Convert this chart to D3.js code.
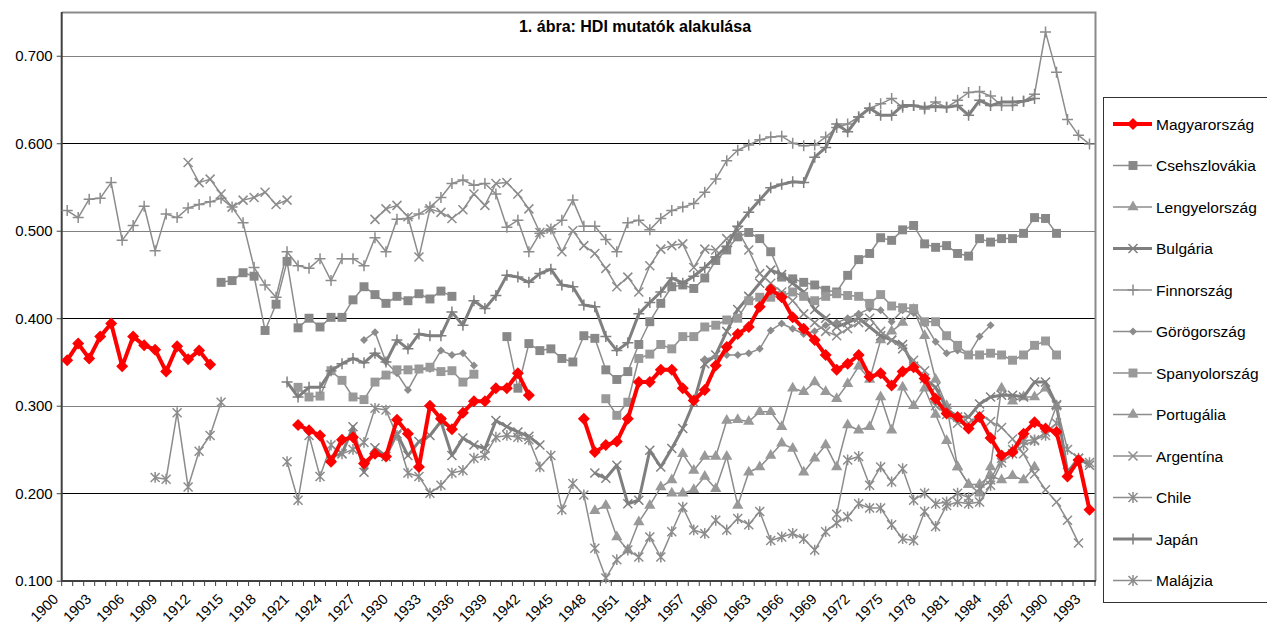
<!DOCTYPE html>
<html>
<head>
<meta charset="utf-8">
<script src="https://cdn.jsdelivr.net/npm/d3@7"></script>
<style>
body { margin:0; background:#fff; }
#main-container { width:1267px; height:629px; overflow:hidden; }
text { font-family: Arial, "Liberation Sans", sans-serif; }
</style>
</head>
<body>
<div id="main-container"></div>
<script>
var width = 1267,
    height = 629

// categories
var years = d3.range(1900, 1994)
var yTicks = [0.1, 0.2, 0.3, 0.4, 0.5, 0.6, 0.7]
var xLabels = d3.range(1900, 1994, 3)

// series: [start year, values]
var magyarorszag = [
  [1900, [0.352,0.371,0.354,0.379,0.394,0.345,0.379,0.369,0.364,0.339,0.368,0.353,0.363,0.347]],
  [1921, [0.278,0.272,0.266,0.236,0.261,0.264,0.234,0.245,0.242,0.284,0.268,0.230,0.300,0.285,0.273,0.292,0.305,0.305,0.320,0.320,0.337,0.312]],
  [1947, [0.285,0.247,0.255,0.259,0.285,0.327,0.327,0.341,0.341,0.320,0.306,0.318,0.346,0.367,0.382,0.390,0.413,0.433,0.424,0.401,0.388,0.375,0.358,0.341,0.348,0.358,0.333,0.337,0.323,0.339,0.344,0.331,0.308,0.291,0.287,0.274,0.287,0.263,0.243,0.247,0.268,0.281,0.274,0.270,0.219,0.238,0.181]]
]
var csehszlovakia = [
  [1914, [0.441,0.443,0.452,0.448,0.386,0.416,0.465,0.389,0.400,0.390,0.401,0.401,0.421,0.436,0.427,0.417,0.425,0.420,0.428,0.422,0.431,0.425]],
  [1940, [0.379,0.320,0.371,0.363,0.365,0.354,0.350,0.380,0.377,0.341,0.330,0.339,0.370,0.396,0.417,0.436,0.438,0.434,0.446,0.466,0.478,0.493,0.498,0.491,0.476,0.447,0.445,0.441,0.438,0.432,0.430,0.449,0.467,0.474,0.492,0.489,0.501,0.506,0.485,0.481,0.483,0.474,0.471,0.491,0.487,0.491,0.491,0.497,0.515,0.514,0.497]]
]
var lengyelorszag = [
  [1948, [0.180,0.186,0.150,0.135,0.167,0.186,0.207,0.215,0.245,0.226,0.242,0.242,0.283,0.284,0.282,0.293,0.293,0.276,0.320,0.316,0.327,0.316,0.308,0.325,0.345,0.330,0.375,0.385,0.395,0.410,0.380,0.330,0.300,0.230,0.210,0.200,0.230,0.320,0.305,0.310,0.310,0.320,0.300]]
]
var bulgaria = [
  [1924, [0.242,0.245,0.276,0.224,0.252,0.242,0.268,0.243,0.259,0.266,0.282,0.243,0.263,0.255,0.251,0.283,0.276,0.270,0.265,0.255]],
  [1948, [0.223,0.217,0.232,0.188,0.192,0.249,0.230,0.251,0.274,0.304,0.348,0.358,0.385,0.410,0.425,0.440,0.455,0.450,0.440,0.430,0.410,0.400,0.390,0.395,0.400,0.390,0.380,0.375,0.370,0.345,0.331,0.321,0.297,0.287,0.287,0.302,0.310,0.312,0.312,0.310,0.327,0.327,0.301,0.224,0.240,0.232]]
]
var finnorszag = [
  [1900, [0.523,0.515,0.536,0.537,0.555,0.489,0.506,0.528,0.477,0.519,
          0.515,0.526,0.530,0.533,0.537,0.527,0.509,0.458,0.438,0.424,
          0.476,0.460,0.457,0.468,0.443,0.468,0.468,0.460,0.492,0.476,
          0.513,0.514,0.519,0.527,0.538,0.554,0.558,0.552,0.554,0.542,
          0.504,0.512,0.476,0.497,0.502,0.512,0.535,0.505,0.505,0.490,
          0.476,0.509,0.512,0.501,0.514,0.523,0.527,0.531,0.544,0.559,
          0.580,0.592,0.598,0.604,0.607,0.608,0.600,0.597,0.598,0.607,
          0.618,0.622,0.630,0.640,0.645,0.651,0.641,0.643,0.639,0.647,
          0.641,0.649,0.658,0.659,0.654,0.643,0.643,0.648,0.656,0.727,
          0.681,0.627,0.609,0.599]]
]
var gorogorszag = [
  [1927, [0.375,0.384,0.350,0.337,0.318,0.341,0.342,0.363,0.358,0.360,0.346]],
  [1958, [0.353,0.356,0.358,0.358,0.360,0.365,0.386,0.394,0.388,0.382,0.385,0.392,0.395,0.400,0.405,0.411,0.409,0.396,0.409,0.406,0.394,0.373,0.360,0.363,0.358,0.379,0.392]]
]
var spanyolorszag = [
  [1921, [0.321,0.310,0.311,0.340,0.329,0.310,0.307,0.327,0.335,0.341,0.341,0.342,0.344,0.339,0.340,0.327,0.336]],
  [1949, [0.308,0.289,0.304,0.354,0.359,0.370,0.365,0.379,0.379,0.390,0.392,0.398,0.400,0.420,0.424,0.424,0.426,0.430,0.425,0.420,0.425,0.428,0.426,0.425,0.417,0.427,0.414,0.412,0.411,0.396,0.396,0.380,0.369,0.358,0.358,0.360,0.358,0.352,0.358,0.369,0.374,0.358]]
]
var portugalia = [
  [1955, [0.200,0.200,0.204,0.219,0.205,0.242,0.186,0.224,0.230,0.243,0.257,0.251,0.224,0.240,0.255,0.230,0.278,0.272,0.276,0.310,0.272,0.321,0.300,0.320,0.290,0.260,0.230,0.210,0.210,0.220,0.215,0.220,0.215,0.230]]
]
var argentina = [
  [1911, [0.578,0.555,0.559,0.542,0.527,0.535,0.538,0.544,0.530,0.535]],
  [1928, [0.513,0.525,
          0.529,0.516,0.470,0.525,0.521,0.514,0.524,0.542,0.529,0.554,
          0.555,0.542,0.525,0.498,0.502,0.476,0.500,0.483,0.474,0.457,
          0.436,0.447,0.430,0.460,0.479,0.483,0.485,0.458,0.479,0.478,
          0.491,0.500,0.478,0.451,0.440,0.430,0.420,0.405,0.395,0.385,
          0.380,0.388,0.395,0.400,0.385,0.375,0.365,0.352,0.340,0.300,
          0.290,0.280,0.280,0.290,0.282,0.275,0.262,0.245,0.222,0.204,
          0.190,0.169,0.143]]
]
var chile = [
  [1908, [0.218,0.216,0.292,0.207,0.248,0.266,0.304]],
  [1920, [0.236,0.192,0.266,0.219,0.255,0.245,0.250,0.258,0.297,0.295,
          0.266,0.223,0.219,0.200,0.209,0.223,0.226,0.240,0.243,0.264,
          0.266,0.264,0.261,0.230,0.243,0.181,0.211,0.198,0.137,0.103,
          0.124,0.135,0.127,0.150,0.127,0.156,0.184,0.158,0.154,0.169,
          0.158,0.171,0.164,0.179,0.146,0.150,0.154,0.148,0.135,0.156,
          0.166,0.173,0.188,0.183,0.183,0.164,0.148,0.146,0.179,0.162,
          0.186,0.190,0.188,0.190,0.209,0.235,0.245,0.255,0.260,0.270,
          0.280]]
]
var japan = [
  [1920, [0.327,0.310,0.321,0.321,0.340,0.348,0.354,0.349,0.360,0.350,
          0.375,0.365,0.382,0.380,0.380,0.407,0.392,0.420,0.411,0.426,
          0.449,0.447,0.441,0.451,0.456,0.438,0.436,0.415,0.413,0.379,
          0.363,0.372,0.405,0.418,0.430,0.446,0.440,0.448,0.458,0.470,
          0.482,0.505,0.521,0.535,0.549,0.553,0.556,0.555,0.584,0.595,
          0.622,0.613,0.630,0.640,0.632,0.632,0.643,0.643,0.641,0.642,
          0.641,0.643,0.632,0.649,0.643,0.647,0.647,0.648,0.651]]
]
var malajzia = [
  [1970, [0.176,0.238,0.242,0.209,0.230,0.213,0.228,0.192,0.200,0.188,
          0.190,0.200,0.195,0.205,0.215,0.240,0.250,0.260,0.261,0.266,
          0.300,0.250,0.240,0.235]]
]

var series = [
  {name:"Magyarország", data:magyarorszag, color:"#ff0000", lw:4, marker:"diamond", ms:6},
  {name:"Csehszlovákia", data:csehszlovakia, color:"#8c8c8c", lw:1.5, marker:"square", ms:80, mfill:"#888"},
  {name:"Lengyelország", data:lengyelorszag, color:"#8c8c8c", lw:1.5, marker:"triangle", ms:55, mfill:"#999"},
  {name:"Bulgária", data:bulgaria, color:"#7f7f7f", lw:3, marker:"x", ms:4.5},
  {name:"Finnország", data:finnorszag, color:"#8c8c8c", lw:1.5, marker:"plus", ms:5.5},
  {name:"Görögország", data:gorogorszag, color:"#8c8c8c", lw:1.5, marker:"diamond", ms:4, mfill:"#8c8c8c"},
  {name:"Spanyolország", data:spanyolorszag, color:"#8c8c8c", lw:1.5, marker:"square", ms:80, mfill:"#999"},
  {name:"Portugália", data:portugalia, color:"#8c8c8c", lw:1.5, marker:"triangle", ms:55, mfill:"#999"},
  {name:"Argentína", data:argentina, color:"#8c8c8c", lw:1.5, marker:"x", ms:4.5},
  {name:"Chile", data:chile, color:"#8c8c8c", lw:1.5, marker:"star", ms:4.5},
  {name:"Japán", data:japan, color:"#7f7f7f", lw:3, marker:"plus", ms:5.5},
  {name:"Malájzia", data:malajzia, color:"#8c8c8c", lw:1.5, marker:"star", ms:4.5}
]

var svg = d3.select("#main-container").append("svg")
  .attr("width", width)
  .attr("height", height)

var x = d3.scaleBand()
  .domain(years)
  .range([61.7, 1095])

var y = d3.scaleLinear()
  .domain([0.1, 0.75])
  .range([580.7, 12])

function cx(yr) { return x(yr) + x.bandwidth() / 2 }

// gridlines
svg.append("g").selectAll("line")
  .data(yTicks.slice(1))
  .enter().append("line")
    .attr("x1", 62).attr("x2", 1095)
    .attr("y1", function(d){ return Math.round(y(d)) + 0.5 })
    .attr("y2", function(d){ return Math.round(y(d)) + 0.5 })
    .attr("stroke", function(d){ return (Math.round(d*10) % 2) ? "#808080" : "#000" })
    .attr("stroke-width", 1)

// plot frame (top / right)
svg.append("path")
  .attr("d", "M62,12.5H1095.5V581")
  .attr("fill", "none")
  .attr("stroke", "#8a8a8a")
  .attr("stroke-width", 2)

// y axis
var yAxis = d3.axisLeft(y)
  .tickValues(yTicks)
  .tickFormat(d3.format(".3f"))
  .tickSize(5)
  .tickPadding(4)

var gy = svg.append("g")
  .attr("transform", "translate(61.7,0)")
  .call(yAxis)
gy.select(".domain").attr("d", "M0,12V581").attr("stroke", "#404040").attr("stroke-width", 2)
gy.selectAll(".tick line").attr("stroke", "#404040")
gy.selectAll(".tick text").attr("font-size", "15px").attr("fill", "#000")

// x axis: ticks at category boundaries
var gx = svg.append("g").attr("class", "xaxis")
gx.append("line")
  .attr("x1", 61).attr("x2", 1096)
  .attr("y1", 581).attr("y2", 581)
  .attr("stroke", "#404040").attr("stroke-width", 2)
gx.selectAll(".tk")
  .data(years.concat([1994]))
  .enter().append("line")
    .attr("class", "tk")
    .attr("x1", function(d){ return d === 1994 ? 1095 : x(d) })
    .attr("x2", function(d){ return d === 1994 ? 1095 : x(d) })
    .attr("y1", 581).attr("y2", 586)
    .attr("stroke", "#404040")
gx.selectAll(".lbl")
  .data(xLabels)
  .enter().append("text")
    .attr("class", "lbl")
    .attr("text-anchor", "end")
    .attr("font-size", "14.5px")
    .attr("transform", function(d){ return "translate(" + (cx(d) - 8) + ",600) rotate(-45)" })
    .text(function(d){ return d })

// title
svg.append("text")
  .attr("x", 635).attr("y", 32)
  .attr("text-anchor", "middle")
  .attr("font-size", "16px")
  .attr("font-weight", "bold")
  .text("1. ábra: HDI mutatók alakulása")

function markerPath(type, s) {
  if (type === "plus") return "M" + (-s) + ",0H" + s + "M0," + (-s) + "V" + s
  if (type === "x") return "M" + (-s) + "," + (-s) + "L" + s + "," + s + "M" + (-s) + "," + s + "L" + s + "," + (-s)
  if (type === "star") return "M" + (-s) + "," + (-s) + "L" + s + "," + s + "M" + (-s) + "," + s + "L" + s + "," + (-s) + "M0," + (-s*1.2) + "V" + (s*1.2)
  if (type === "diamond") return "M0," + (-s) + "L" + s + ",0L0," + s + "L" + (-s) + ",0Z"
  var sym = {square: d3.symbolSquare, triangle: d3.symbolTriangle}[type]
  return d3.symbol().type(sym).size(s)()
}
function isStroke(type) { return type === "plus" || type === "x" || type === "star" }

function toPoints(segs) {
  var pts = []
  segs.forEach(function(seg, k) {
    if (k > 0) pts.push({year: null, v: null})
    seg[1].forEach(function(v, i) { pts.push({year: seg[0] + i, v: v}) })
  })
  return pts
}

var line = d3.line()
  .defined(function(d){ return d.v != null })
  .x(function(d){ return cx(d.year) })
  .y(function(d){ return y(d.v) })

var plot = svg.append("g").attr("class", "plot")

// draw gray series first, Hungary on top
series.slice(1).concat([series[0]]).forEach(function(s) {
  var pts = toPoints(s.data)
  var g = plot.append("g")
  g.append("path")
    .attr("d", line(pts))
    .attr("fill", "none")
    .attr("stroke", s.color)
    .attr("stroke-width", s.lw)
    .attr("stroke-linejoin", "round")
  g.selectAll(".m")
    .data(pts.filter(function(d){ return d.v != null }))
    .enter().append("path")
      .attr("class", "m")
      .attr("transform", function(d){ return "translate(" + cx(d.year) + "," + y(d.v) + ")" })
      .attr("d", markerPath(s.marker, s.ms))
      .attr("fill", isStroke(s.marker) ? "none" : (s.mfill || s.color))
      .attr("stroke", isStroke(s.marker) ? s.color : "none")
      .attr("stroke-width", isStroke(s.marker) ? 1.5 : 0)
})

// legend
var legend = svg.append("g").attr("class", "legend")
legend.append("rect")
  .attr("x", 1103.5).attr("y", 97.5)
  .attr("width", 170).attr("height", 505)
  .attr("fill", "#fff")
  .attr("stroke", "#333")
  .attr("stroke-width", 1)

var items = legend.selectAll(".item")
  .data(series)
  .enter().append("g")
    .attr("class", "item")
    .attr("transform", function(d, i){ return "translate(0," + (124 + i * 41.5) + ")" })

items.append("line")
  .attr("x1", 1113).attr("x2", 1152)
  .attr("y1", 0).attr("y2", 0)
  .attr("stroke", function(d){ return d.color })
  .attr("stroke-width", function(d){ return d.lw })
items.append("path")
  .attr("transform", "translate(1133,0)")
  .attr("d", function(d){ return markerPath(d.marker, d.ms) })
  .attr("fill", function(d){ return isStroke(d.marker) ? "none" : (d.mfill || d.color) })
  .attr("stroke", function(d){ return isStroke(d.marker) ? d.color : "none" })
  .attr("stroke-width", 1.5)
items.append("text")
  .attr("x", 1156).attr("y", 5.5)
  .attr("font-size", "15.5px")
  .text(function(d){ return d.name })
</script>
</body>
</html>
